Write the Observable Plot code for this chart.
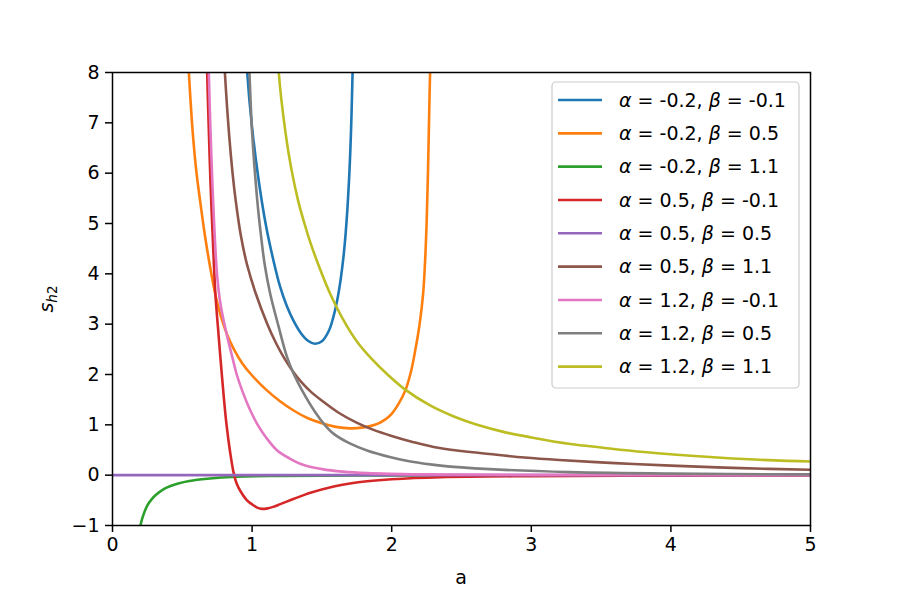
<!DOCTYPE html>
<html>
<head>
<meta charset="utf-8">
<script src="https://cdn.jsdelivr.net/npm/d3@7"></script>
<script src="https://cdn.jsdelivr.net/npm/@observablehq/plot@0.6"></script>
<style>
  html, body { margin: 0; padding: 0; background: #fff; }
  #chart svg { font-family: "DejaVu Sans", sans-serif; display: block; }
</style>
</head>
<body>
<div id="chart"></div>
<script>
// ---- data (a, s_h2) ----
const alphas = [-0.2, -0.2, -0.2, 0.5, 0.5, 0.5, 1.2, 1.2, 1.2];
const betas  = [-0.1, 0.5, 1.1, -0.1, 0.5, 1.1, -0.1, 0.5, 1.1];
const colors = ["#1f77b4", "#ff7f0e", "#2ca02c", "#d62728", "#9467bd", "#8c564b", "#e377c2", "#7f7f7f", "#bcbd22"];
const xTicks = [0, 1, 2, 3, 4, 5];
const yTicks = [-1, 0, 1, 2, 3, 4, 5, 6, 7, 8];

const curveA = [[0.955, 8.6], [0.965, 8.0], [1.0, 6.9], [1.05, 5.8], [1.1, 4.95], [1.15, 4.3], [1.2, 3.75], [1.25, 3.35], [1.3, 3.05], [1.35, 2.82], [1.4, 2.67], [1.45, 2.61], [1.5, 2.66], [1.55, 2.87], [1.58, 3.12], [1.61, 3.48], [1.635, 3.9], [1.655, 4.35], [1.67, 4.8], [1.683, 5.3], [1.695, 5.9], [1.705, 6.55], [1.712, 7.15], [1.718, 7.8], [1.725, 8.6]];
const curveB = [[0.54, 8.4], [0.547, 8.0], [0.56, 7.4], [0.575, 6.8], [0.6, 6.05], [0.63, 5.4], [0.66, 4.8], [0.697, 4.17], [0.733, 3.64], [0.77, 3.22], [0.82, 2.8], [0.87, 2.5], [0.93, 2.22], [1.0, 1.98], [1.1, 1.7], [1.2, 1.47], [1.3, 1.28], [1.4, 1.13], [1.5, 1.03], [1.6, 0.96], [1.7, 0.93], [1.8, 0.95], [1.88, 1.0], [1.95, 1.1], [2.0, 1.22], [2.05, 1.42], [2.1, 1.7], [2.14, 2.08], [2.17, 2.5], [2.2, 3.0], [2.225, 3.6], [2.24, 4.3], [2.25, 5.0], [2.258, 5.8], [2.265, 6.7], [2.27, 7.4], [2.275, 8.0], [2.28, 8.7]];
const curveC = [[0.19, -1.15], [0.2, -1.0], [0.22, -0.8], [0.25, -0.6], [0.28, -0.48], [0.32, -0.37], [0.37, -0.27], [0.415, -0.215], [0.47, -0.165], [0.55, -0.115], [0.678, -0.07], [0.893, -0.03], [1.2, -0.015], [2.0, -0.005], [3.0, -0.002], [5.0, -0.001]];
const curveD = [[0.672, 8.8], [0.678, 8.0], [0.69, 6.85], [0.702, 5.82], [0.72, 4.6], [0.737, 3.6], [0.755, 2.95], [0.774, 2.3], [0.795, 1.62], [0.817, 1.0], [0.843, 0.45], [0.869, 0.03], [0.89, -0.17], [0.917, -0.32], [0.96, -0.49], [1.0, -0.58], [1.04, -0.65], [1.072, -0.67], [1.11, -0.66], [1.15, -0.63], [1.203, -0.575], [1.3, -0.47], [1.418, -0.35], [1.585, -0.225], [1.7, -0.165], [1.823, -0.12], [2.0, -0.08], [2.35, -0.04], [3.0, -0.02], [4.0, -0.01], [5.0, -0.005]];
const curveE = [[0, 0], [1, 0], [2, 0], [3, 0], [4, 0], [5, 0]];
const curveF = [[0.79, 8.8], [0.805, 8.0], [0.834, 6.81], [0.86, 6.0], [0.881, 5.49], [0.92, 4.75], [0.965, 4.17], [1.025, 3.62], [1.108, 3.01], [1.17, 2.63], [1.227, 2.34], [1.29, 2.07], [1.35, 1.86], [1.42, 1.66], [1.5, 1.48], [1.62, 1.24], [1.752, 1.04], [1.87, 0.9], [2.0, 0.78], [2.15, 0.66], [2.3, 0.56], [2.5, 0.48], [2.7, 0.42], [2.95, 0.35], [3.2, 0.3], [3.6, 0.24], [4.0, 0.19], [4.5, 0.14], [5.0, 0.106]];
const curveG = [[0.684, 8.8], [0.69, 8.0], [0.7, 7.0], [0.71, 6.2], [0.72, 5.5], [0.735, 4.6], [0.75, 3.95], [0.768, 3.5], [0.79, 3.15], [0.81, 2.9], [0.835, 2.6], [0.857, 2.36], [0.89, 2.0], [0.929, 1.68], [0.98, 1.33], [1.036, 1.02], [1.1, 0.75], [1.18, 0.49], [1.27, 0.33], [1.37, 0.2], [1.5, 0.12], [1.65, 0.07], [1.823, 0.04], [2.2, 0.015], [3.0, 0.005], [5.0, 0.001]];
const curveH = [[0.97, 8.8], [0.981, 8.0], [1.0, 6.81], [1.036, 5.49], [1.06, 4.85], [1.091, 4.17], [1.13, 3.6], [1.19, 2.95], [1.251, 2.34], [1.3, 2.0], [1.359, 1.68], [1.45, 1.26], [1.52, 1.0], [1.585, 0.82], [1.7, 0.63], [1.823, 0.49], [2.0, 0.35], [2.135, 0.27], [2.35, 0.19], [2.7, 0.12], [3.28, 0.06], [4.0, 0.03], [5.0, 0.015]];
const curveI = [[1.18, 8.8], [1.191, 8.0], [1.239, 6.81], [1.28, 6.1], [1.33, 5.45], [1.375, 5.0], [1.42, 4.6], [1.49, 4.07], [1.56, 3.6], [1.669, 3.01], [1.76, 2.62], [1.86, 2.3], [1.97, 2.0], [2.087, 1.72], [2.278, 1.38], [2.45, 1.16], [2.612, 1.0], [2.8, 0.86], [3.0, 0.75], [3.28, 0.62], [3.5, 0.55], [3.806, 0.46], [4.28, 0.36], [4.6, 0.31], [5.0, 0.27]];

const curves = [curveA, curveB, curveC, curveD, curveE, curveF, curveG, curveH, curveI];
const fmtNum = v => (v < 0 ? "\u2212" + Math.abs(v) : String(v));
const FS = 19;

const chart = Plot.plot({
  width: 900,
  height: 600,
  marginLeft: 112,
  marginRight: 90,
  marginTop: 72,
  marginBottom: 75,
  style: { fontFamily: "DejaVu Sans", fontSize: FS + "px", color: "black", background: "white" },
  x: { domain: [0, 5] },
  y: { domain: [-1, 8] },
  marks: [
    ...curves.map((pts, i) => Plot.line(pts, {
      x: d => d[0], y: d => d[1], stroke: colors[i], strokeWidth: 2.6,
      curve: "catmull-rom", clip: true
    })),
    Plot.frame({ stroke: "black", strokeWidth: 1.5 }),
    Plot.axisX({ ticks: xTicks, tickSize: 7, tickPadding: 5, strokeWidth: 1.5, fontSize: FS, label: null, tickFormat: fmtNum }),
    Plot.axisY({ ticks: yTicks, tickSize: 7, tickPadding: 6, strokeWidth: 1.5, fontSize: FS, label: null, tickFormat: fmtNum })
  ]
});
document.getElementById("chart").appendChild(chart);

// ---- axis titles and legend (layout only) ----
const svg = d3.select(chart);
svg.append("text").attr("x", 461).attr("y", 584).attr("text-anchor", "middle")
  .attr("font-size", FS).attr("fill", "black").text("a");
const yl = svg.append("text").attr("transform", "translate(53,299) rotate(-90)")
  .attr("text-anchor", "middle").attr("font-size", FS).attr("fill", "black");
yl.append("tspan").attr("font-style", "italic").text("s");
yl.append("tspan").attr("font-style", "italic").attr("font-size", 13.5).attr("dy", 4).text("h");
yl.append("tspan").attr("font-size", 13.5).text("2");

const lg = svg.append("g");
lg.append("rect").attr("x", 552).attr("y", 82).attr("width", 247).attr("height", 306)
  .attr("rx", 4).attr("fill", "white").attr("fill-opacity", 0.8).attr("stroke", "#cccccc").attr("stroke-width", 1.2);
alphas.forEach((al, i) => {
  const cy = 100 + i * 33.33;
  lg.append("line").attr("x1", 558).attr("x2", 602).attr("y1", cy).attr("y2", cy)
    .attr("stroke", colors[i]).attr("stroke-width", 2.6);
  const t = lg.append("text").attr("x", 619).attr("y", cy).attr("dy", "0.35em")
    .attr("text-anchor", "start").attr("font-size", FS).attr("fill", "black");
  t.append("tspan").attr("font-style", "italic").text("\u03b1");
  t.append("tspan").text(" = " + al + ", ");
  t.append("tspan").attr("font-style", "italic").text("\u03b2");
  t.append("tspan").text(" = " + betas[i]);
});
</script>
</body>
</html>
